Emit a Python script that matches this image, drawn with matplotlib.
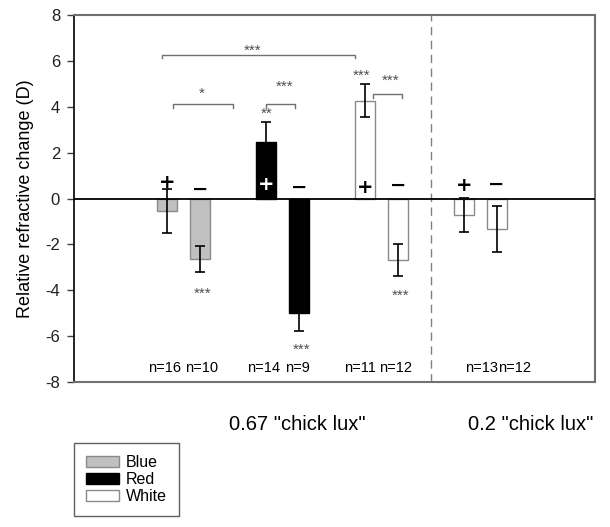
import matplotlib
matplotlib.use("Agg")
import matplotlib.pyplot as plt
from matplotlib.patches import Patch

plt.rcParams['font.family'] = ['Liberation Sans', 'DejaVu Sans']
plt.rcParams['axes.unicode_minus'] = False

# bar positions (units of one bar slot)
blue_x = [0, 1]
red_x = [3, 4]
white_x = [6, 7, 9, 10]

blue = [-0.55, -2.65]
blue_err = [0.97, 0.57]
red = [2.45, -5.0]
red_err = [0.9, 0.77]
white = [4.27, -2.69, -0.71, -1.32]
white_err = [0.72, 0.69, 0.75, 1.0]

n_labels = ['n=16', 'n=10', 'n=14', 'n=9', 'n=11', 'n=12', 'n=13', 'n=12']
n_x = [-0.08, 1.07, 2.95, 3.95, 5.85, 6.95, 9.55, 10.55]
signs = ['+', '-', '+', '-', '+', '-', '+', '-']
sign_x = [0, 1, 3, 4, 6, 7, 9, 10]
sign_y = [0.72, 0.4, 0.6, 0.5, 0.5, 0.57, 0.55, 0.62]
sign_col = ['k', 'k', 'w', 'k', 'k', 'k', 'k', 'k']

fig = plt.figure(figsize=(6.1, 5.27), dpi=100)
ax = fig.add_axes([0.1213, 0.2751, 0.854, 0.6964])

w = 0.6
ekw = dict(ecolor='black', elinewidth=1.2, capsize=3.8, capthick=1.2, zorder=4)
ax.bar(blue_x, blue, w, yerr=blue_err, color='#c0c0c0', edgecolor='#8a8a8a',
       linewidth=1, error_kw=ekw, zorder=3)
ax.bar(red_x, red, w, yerr=red_err, color='black', edgecolor='black',
       linewidth=1, error_kw=ekw, zorder=3)
ax.bar(white_x, white, w, yerr=white_err, color='white', edgecolor='#8a8a8a',
       linewidth=1, error_kw=ekw, zorder=3)

ax.axhline(0, color='black', lw=1.3, zorder=5)
ax.axvline(8.0, color='#808080', lw=1, ls=(0, (6, 4)), zorder=2)

ax.set_xlim(-2.81, 12.98)
ax.set_ylim(-8, 8)
ax.set_yticks(range(-8, 9, 2))
ax.set_xticks([])
ax.tick_params(axis='y', labelsize=12, direction='out', length=5, width=1,
               colors='#404040', pad=5)
for lab in ax.get_yticklabels():
    lab.set_color('#202020')
ax.set_ylabel('Relative refractive change (D)', fontsize=13, labelpad=8)
for s in ['top', 'right', 'bottom']:
    ax.spines[s].set_color('#707070')
    ax.spines[s].set_linewidth(1.5)
ax.spines['left'].set_color('black')
ax.spines['left'].set_linewidth(1.2)

# significance brackets
bc = '#707070'


def bracket(x0, x1, y, h=0.15):
    ax.plot([x0, x0, x1, x1], [y - h, y, y, y - h], color=bc, lw=1, zorder=2)


bracket(-0.15, 5.7, 6.26)
bracket(0.2, 2.0, 4.11)
bracket(3.0, 3.9, 4.11)
bracket(6.24, 7.12, 4.55)

sc = '#505050'
stars = [('***', 2.6, 6.45), ('*', 1.07, 4.55), ('***', 3.58, 4.85),
         ('**', 3.03, 3.7), ('***', 6.8, 5.15), ('***', 5.9, 5.35),
         ('***', 1.1, -4.15), ('***', 4.09, -6.6), ('***', 7.09, -4.25)]
for t, x, y in stars:
    ax.text(x, y, t, ha='center', va='center', fontsize=11, color=sc, zorder=6)

for t, x, y, c in zip(signs, sign_x, sign_y, sign_col):
    t2 = '\u2212' if t == '-' else '+'
    ax.text(x, y, t2, ha='center', va='center', fontsize=14, fontweight='bold',
            color=c, zorder=6, family='DejaVu Sans')

for t, x in zip(n_labels, n_x):
    ax.text(x, -7.4, t, ha='center', va='center', fontsize=10.5, zorder=6)

ax.text(3.95, -9.85, '0.67 "chick lux"', ha='center', va='center', fontsize=14.5,
        clip_on=False)
ax.text(11.04, -9.85, '0.2 "chick lux"', ha='center', va='center', fontsize=14.5,
        clip_on=False)

handles = [Patch(facecolor='#c0c0c0', edgecolor='#8a8a8a', label='Blue'),
           Patch(facecolor='black', edgecolor='black', label='Red'),
           Patch(facecolor='white', edgecolor='#8a8a8a', label='White')]
leg = fig.legend(handles=handles, loc='lower left', bbox_to_anchor=(0.121, 0.02),
                 borderaxespad=0, fontsize=11.5, fancybox=False,
                 edgecolor='#606060', handlelength=2.1, handleheight=0.7,
                 labelspacing=0.15, borderpad=0.75, handletextpad=0.4,
                 framealpha=1)
leg.get_frame().set_linewidth(1)

fig.savefig('out.png', dpi=100)
